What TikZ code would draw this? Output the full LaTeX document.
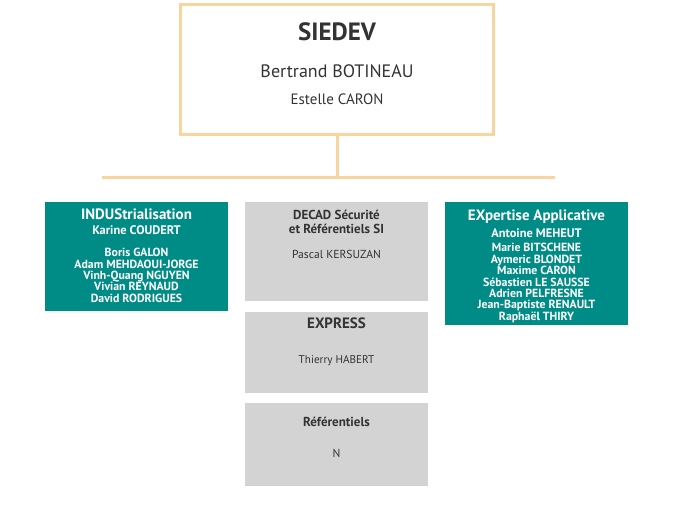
\documentclass[tikz,border=0pt]{standalone}
\usepackage{fontspec}
\setmainfont{PT Sans}
\usetikzlibrary{positioning}
\definecolor{peach}{HTML}{F8D59E}
\definecolor{orgteal}{HTML}{008C86}
\definecolor{orggray}{HTML}{D3D3D3}
\definecolor{ink}{HTML}{333333}

\begin{document}
\begin{tikzpicture}[x=1pt,y=-1pt,node distance=11pt]
  \tikzstyle{head}=[draw=peach, line width=3pt, minimum width=313pt, minimum height=129.5pt, inner sep=0pt]
  \tikzstyle{unit}=[fill=orgteal, minimum width=183pt, inner sep=0pt]
  \tikzstyle{team}=[fill=orggray, minimum width=183pt, inner sep=0pt]
  \tikzstyle{txt}=[align=center, inner sep=0pt, anchor=base]
  \tikzstyle{unittitle}=[txt, text=white, font=\bfseries\fontsize{15}{17}\selectfont]
  \tikzstyle{unitlead}=[txt, text=white, font=\bfseries\fontsize{12.4}{14}\selectfont]
  \tikzstyle{unitnames}=[txt, text=white, font=\bfseries\fontsize{11.8}{11.4}\selectfont]
  \tikzstyle{teamtitle}=[txt, text=ink, font=\bfseries\fontsize{13}{14}\selectfont]
  \tikzstyle{teamname}=[txt, text=ink, font=\fontsize{11.6}{13}\selectfont]
  \tikzstyle{bus}=[draw=peach, line width=3pt]
  \useasboundingbox (0,0) rectangle (685,512);

  % direction
  \node[head] (siedev) at (337,69.25) {};
  \node[txt, text=ink, font=\bfseries\fontsize{25}{28}\selectfont, below=37.5pt of siedev.north, anchor=base] (siedevT) {SIEDEV};
  \node[txt, text=ink, font=\fontsize{18}{20}\selectfont, below=74.5pt of siedev.north, anchor=base] (chief) {Bertrand BOTINEAU};
  \node[txt, text=ink, font=\fontsize{15}{17}\selectfont, below=101.5pt of siedev.north, anchor=base] (deputy) {Estelle CARON};

  % bus
  \coordinate (busL) at (102,177.5);
  \coordinate (busR) at (555,177.5);
  \draw[bus] (siedev.south) -- (siedev.south |- busL);
  \draw[bus] (busL) -- (busR);

  % units (base of a list = its last line)
  \node[unit, minimum height=109pt] (indus) at (136.5,256.5) {};
  \node[unittitle, below=18pt of indus.north, anchor=base] (indusT) {INDUStrialisation};
  \node[unitlead, below=33pt of indus.north, anchor=base] (indusL) {Karine COUDERT};
  \node[unitnames, below=100.5pt of indus.north, anchor=base] (indusN)
    {Boris GALON\\ Adam MEHDAOUI-JORGE\\ Vinh-Quang NGUYEN\\
     Vivian REYNAUD\\ David RODRIGUES};

  \node[unit, minimum height=123pt] (expert) at (536.5,263.5) {};
  \node[unittitle, below=19pt of expert.north, anchor=base] (expertT) {EXpertise Applicative};
  \node[unitlead, below=36pt of expert.north, anchor=base] (expertL) {Antoine MEHEUT};
  \node[unitnames, below=118.5pt of expert.north, anchor=base] (expertN)
    {Marie BITSCHENE\\ Aymeric BLONDET\\ Maxime CARON\\
     Sébastien LE SAUSSE\\ Adrien PELFRESNE\\ Jean-Baptiste RENAULT\\ Raphaël THIRY};

  % teams
  \node[team, minimum height=99pt] (decad) at (336.5,251.5) {};
  \node[team, minimum height=81pt, below=of decad] (express) {};
  \node[team, minimum height=83pt, below=9pt of express] (refer) {};

  \node[teamtitle, below=32pt of decad.north, anchor=base] (decadT) {DECAD Sécurité\\ et Référentiels SI};
  \node[teamname, below=57pt of decad.north, anchor=base] (decadN) {Pascal KERSUZAN};
  \node[teamtitle, font=\bfseries\fontsize{15}{17}\selectfont, below=16pt of express.north, anchor=base] (expressT) {EXPRESS};
  \node[teamname, font=\fontsize{11.2}{13}\selectfont, below=51pt of express.north, anchor=base] (expressN) {Thierry HABERT};
  \node[teamtitle, below=24pt of refer.north, anchor=base] (referT) {Référentiels};
  \node[teamname, below=55pt of refer.north, anchor=base] (referN) {N};
\end{tikzpicture}
\end{document}
